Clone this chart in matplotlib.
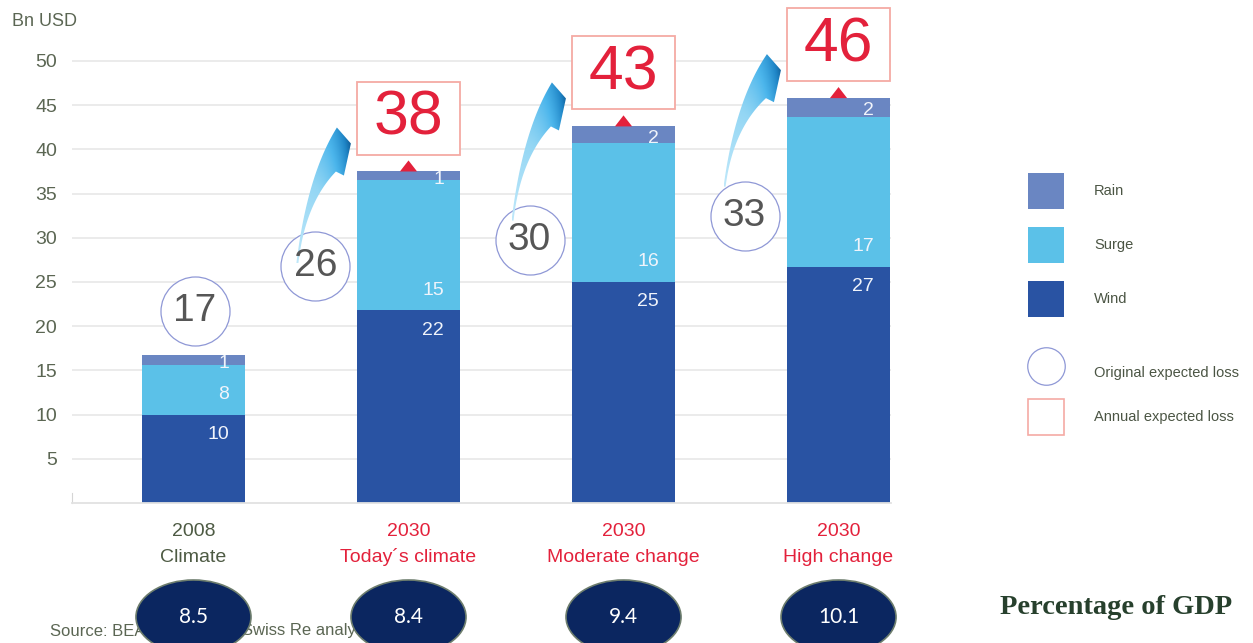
import numpy as np
import matplotlib
matplotlib.use('Agg')
import matplotlib.pyplot as plt
from matplotlib.patches import Rectangle, Ellipse, Polygon, Patch
from matplotlib.lines import Line2D
from matplotlib.colors import LinearSegmentedColormap
import matplotlib.transforms as mtransforms

# ---------------- data ----------------
years = ['2008', '2030', '2030', '2030']
scenarios = ['Climate', 'Today\u00b4s climate', 'Moderate change', 'High change']
wind_height = [10.0, 21.8, 25.0, 26.7]
surge_height = [5.6, 14.7, 15.7, 17.0]
rain_height = [1.1, 1.0, 1.9, 2.1]
wind_label = ['10', '22', '25', '27']
surge_label = ['8', '15', '16', '17']
rain_label = ['1', '1', '2', '2']
original_loss = ['17', '26', '30', '33']
annual_loss = [None, '38', '43', '46']
gdp_pct = ['8.5', '8.4', '9.4', '10.1']
legend_labels_a = ['Rain', 'Surge', 'Wind']
legend_labels_b = ['Original expected loss', 'Annual expected loss']
y_ticks = [5, 10, 15, 20, 25, 30, 35, 40, 45, 50]

# ---------------- layout / style ----------------
W, H = 1253, 643
C_WIND = '#2953a3'
C_SURGE = '#5bc1e8'
C_RAIN = '#6a86c2'
C_RED = '#e3213b'
C_BOXEDGE = '#f5aaa4'
C_CIRCEDGE = '#8f98d6'
C_TEXT = '#5b6653'
BAR_W = 0.48
circle_dx = [0.007, -0.433, -0.437, -0.437]
circle_y = [21.7, 26.8, 29.8, 32.5]
tail_offset_px = [None, (-18, -3), (-17, -19), (-20, -29)]
year_colors = ['#4d5a43', C_RED, C_RED, C_RED]

fig = plt.figure(figsize=(W / 100, H / 100), dpi=100)
ax = fig.add_axes([72 / W, (H - 503) / H, (891 - 72) / W, 503 / H])
x = np.arange(len(years))
XLIM = (-0.565, 3.244)
YLIM = (0, 56.9)
ax.set_xlim(*XLIM)
ax.set_ylim(*YLIM)

# axes styling
for s in ['top', 'right']:
    ax.spines[s].set_visible(False)
ax.spines['left'].set_bounds(0, 1.1)
ax.spines['left'].set_color('#d5d5d5')
ax.spines['bottom'].set_color('#e2e2e2')
ax.spines['bottom'].set_linewidth(1.3)
ax.set_yticks(y_ticks)
ax.set_yticklabels([str(v) for v in y_ticks], fontsize=14, color=C_TEXT,
                   family='Liberation Sans')
ax.tick_params(axis='y', length=0, pad=10.8)
ax.set_xticks([])
ax.yaxis.grid(True, color='#e9e9e9', lw=1.3)
ax.set_axisbelow(True)

# stacked bars
wind = np.array(wind_height)
surge = np.array(surge_height)
rain = np.array(rain_height)
ax.bar(x, wind, BAR_W, color=C_WIND, zorder=2)
ax.bar(x, surge, BAR_W, bottom=wind, color=C_SURGE, zorder=2)
ax.bar(x, rain, BAR_W, bottom=wind + surge, color=C_RAIN, zorder=2)
totals = wind + surge + rain

lab_kw = dict(color='#f0f4fb', fontsize=14, ha='right', va='center',
              family='Liberation Sans', textcoords='offset points', zorder=5)
for i in range(len(x)):
    xr = x[i] + BAR_W / 2
    ax.annotate(wind_label[i], (xr, wind[i]), xytext=(-11.5, -14.4), **lab_kw)
    ax.annotate(surge_label[i], (xr, wind[i]), xytext=(-11.5, 14.4), **lab_kw)
    ax.annotate(rain_label[i], (xr, wind[i] + surge[i] + rain[i] / 2),
                xytext=(-11.5, -2.5), **lab_kw)

# original expected loss circles
cx = x + np.array(circle_dx)
ax.scatter(cx, circle_y, s=2470, facecolor='white', edgecolor=C_CIRCEDGE,
           linewidth=0.9, zorder=3, clip_on=False)
for i in range(len(x)):
    ax.text(cx[i], circle_y[i], original_loss[i], fontsize=28, color='#565656',
            ha='center', va='center', family='Liberation Sans', zorder=7)

# annual expected loss boxes + triangles
GAP = 1.92
BOX_H = 8.26
boxes = []
for i in range(len(x)):
    if annual_loss[i] is None:
        continue
    y0 = totals[i] + GAP
    ax.add_patch(Rectangle((x[i] - BAR_W / 2, y0), BAR_W, BOX_H, facecolor='white',
                           edgecolor=C_BOXEDGE, lw=1.3, zorder=3, clip_on=False))
    ax.text(x[i], y0 + BOX_H / 2, annual_loss[i], fontsize=45, color=C_RED,
            ha='center', va='center', family='Liberation Sans', zorder=7)
    ax.fill([x[i] - 0.04, x[i] + 0.04, x[i]],
            [totals[i], totals[i], totals[i] + 1.25], color=C_RED, zorder=3, lw=0)
    boxes.append((i, y0, y0 + BOX_H))

# gradient curved arrows (circle -> box)
cmap = LinearSegmentedColormap.from_list('arr', [
    (0.0, '#bfe8fa'), (0.3, '#93d6f4'), (0.55, '#4cb6ec'),
    (0.8, '#1f85c6'), (1.0, '#0b4f86')])


def to_pix(xd, yd):
    dx, dy = ax.transData.transform((xd, yd))
    return np.array([dx, H - dy])


def from_pix(pts):
    disp = np.column_stack([pts[:, 0], H - pts[:, 1]])
    return ax.transData.inverted().transform(disp)


def qbez(p0, p1, p2, n=40):
    t = np.linspace(0, 1, n)[:, None]
    return (1 - t) ** 2 * p0 + 2 * (1 - t) * t * p1 + t ** 2 * p2


for (i, yb, yt) in boxes:
    left, top = to_pix(x[i] - BAR_W / 2, yt)
    _, bottom = to_pix(x[i] - BAR_W / 2, yb)
    A = np.array([left - 20, top + 46])
    B = np.array([left - 6, top + 62])
    C = np.array([left - 13, bottom + 21])
    D = np.array([C[0] - 8, C[1] - 4])
    T = to_pix(cx[i], circle_y[i]) + np.array(tail_offset_px[i])
    L = np.array([T[0] + 0.25 * (A[0] - T[0]), A[1] + 0.35 * (T[1] - A[1])])
    R = np.array([T[0] + 0.2 * (D[0] - T[0]), D[1] + 0.35 * (T[1] - D[1])])
    left_edge = qbez(T + [-1, 0], L, A)
    inner_edge = qbez(D, R, T + [1, 0])
    pts = np.vstack([left_edge, B, C, inner_edge])
    dpts = from_pix(pts)
    poly = Polygon(dpts, closed=True, facecolor='none', edgecolor='none',
                   transform=ax.transData)
    ax.add_patch(poly)
    nx, ny = 80, 160
    u = np.linspace(0, 1, nx)[None, :]
    v = np.linspace(0, 1, ny)[:, None]
    g = np.clip(0.5 * v + 0.5 * u ** 3, 0, 1)
    ext = (dpts[:, 0].min(), dpts[:, 0].max(), dpts[:, 1].min(), dpts[:, 1].max())
    im = ax.imshow(g, cmap=cmap, vmin=0, vmax=1, extent=ext, origin='lower',
                   aspect='auto', zorder=4, interpolation='bilinear')
    im.set_clip_path(poly)

ax.set_xlim(*XLIM)
ax.set_ylim(*YLIM)

# category labels below the axis
for i in range(len(x)):
    ax.annotate(years[i], (x[i], 0), xycoords=('data', 'axes fraction'),
                xytext=(0, -23.5), textcoords='offset points', ha='center',
                va='baseline', fontsize=14, color=year_colors[i],
                family='Liberation Sans', annotation_clip=False)
    ax.annotate(scenarios[i], (x[i], 0), xycoords=('data', 'axes fraction'),
                xytext=(0, -42.3), textcoords='offset points', ha='center',
                va='baseline', fontsize=14, color=year_colors[i],
                family='Liberation Sans', annotation_clip=False)

# GDP ellipses
blend = mtransforms.blended_transform_factory(ax.transData, fig.transFigure)
for i in range(len(x)):
    e = Ellipse((x[i], 1 - 617 / H), 0.535, 74 / H, transform=blend,
                facecolor='#0b2660', edgecolor='#6d7d6d', lw=1.2, zorder=5)
    fig.add_artist(e)
    fig.text(x[i], 1 - 617 / H, gdp_pct[i], transform=blend, ha='center',
             va='center', fontsize=15, color='white', family='Lato', zorder=6)

fig.text(1000 / W, 1 - 608 / H, 'Percentage of GDP', fontsize=20.5,
         fontweight='bold', family='Liberation Serif', color='#27402d',
         ha='left', va='center')
fig.text(50 / W, 1 - 631 / H, 'Source: BEA', fontsize=12, color=C_TEXT,
         family='Liberation Sans', va='center', zorder=1)
fig.text(242 / W, 1 - 631 / H, 'Swiss Re analysis', fontsize=12, color=C_TEXT,
         family='Liberation Sans', va='center', zorder=1)
fig.text(12 / W, 1 - 22 / H, 'Bn USD', fontsize=13, color=C_TEXT,
         family='Liberation Sans', va='center')

# legend (two blocks)
FS = 10.5
HH = 3.42  # gives ~36 px tall handles
leg_kw = dict(loc='upper left', bbox_transform=fig.transFigure, frameon=False,
              handlelength=2.47, handleheight=HH, handletextpad=2.05,
              borderpad=0, borderaxespad=0,
              prop={'family': 'Liberation Sans', 'size': FS})
handles_a = [Patch(facecolor=C_RAIN, edgecolor='none'),
             Patch(facecolor=C_SURGE, edgecolor='none'),
             Patch(facecolor=C_WIND, edgecolor='none')]
leg1 = fig.legend(handles_a, legend_labels_a, bbox_to_anchor=(1028 / W, 1 - 173 / H),
                  labelspacing=1.23, **leg_kw)
handles_b = [Line2D([], [], ls='none', marker='o', markersize=27,
                    markerfacecolor='white', markeredgecolor=C_CIRCEDGE, mew=0.9),
             Patch(facecolor='white', edgecolor=C_BOXEDGE, lw=1.2)]
leg2 = fig.legend(handles_b, legend_labels_b, bbox_to_anchor=(1028 / W, 1 - 355 / H),
                  labelspacing=0.54, **leg_kw)
for lg in (leg1, leg2):
    for t in lg.get_texts():
        t.set_color('#4b5544')

fig.savefig('out.png', dpi=100)
